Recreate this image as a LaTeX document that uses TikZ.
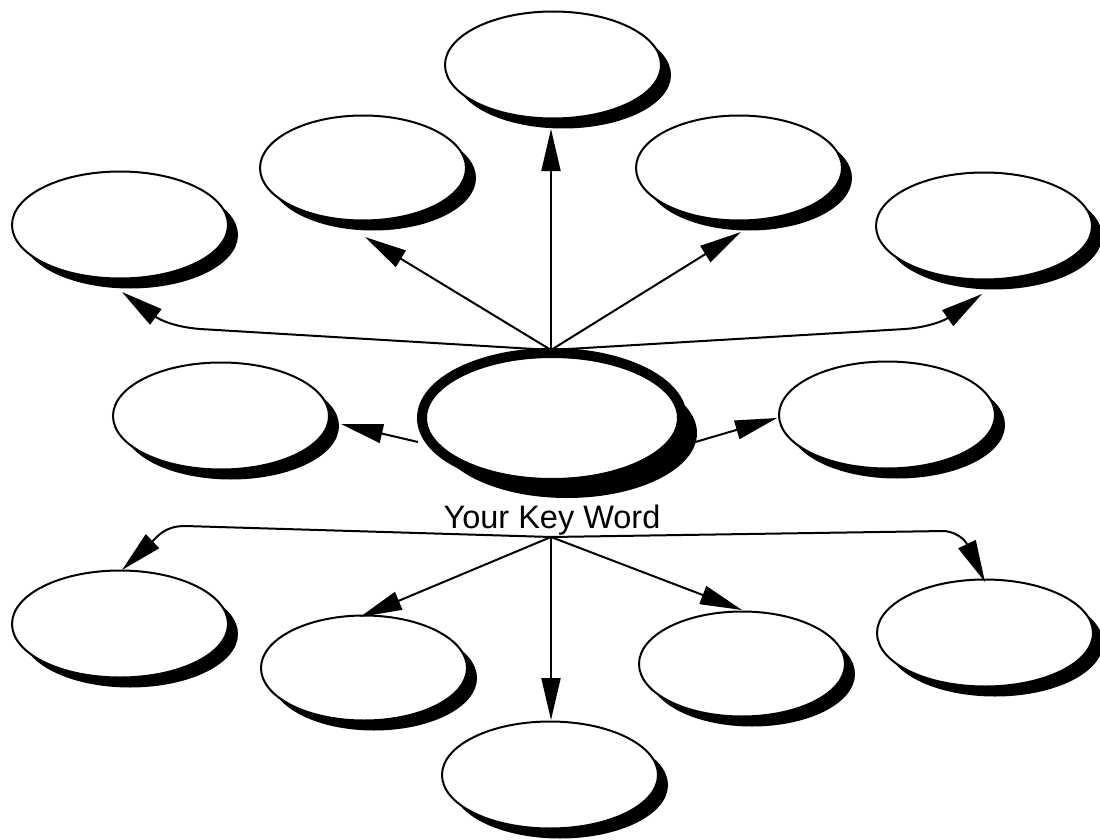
\documentclass[tikz,border=0pt]{standalone}
\usepackage{fontspec}
\setmainfont{Liberation Sans}
\usetikzlibrary{shapes.geometric,shadows,arrows.meta}
\begin{document}
\begin{tikzpicture}[x=1pt,y=-1pt,
  bubble/.style={ellipse, draw=black, line width=2pt, fill=white, inner sep=0pt,
    minimum width=216pt, minimum height=107pt,
    drop shadow={shadow xshift=10pt, shadow yshift=-10pt, fill=black, opacity=1}},
  smallbubble/.style={bubble, minimum width=206pt, minimum height=105pt},
  keybubble/.style={ellipse, draw=black, line width=10pt, fill=white, inner sep=0pt,
    minimum width=260pt, minimum height=130pt,
    drop shadow={shadow xshift=15pt, shadow yshift=-15pt, fill=black, opacity=1}},
  link/.style={line width=2pt, -{Triangle[length=42pt,width=19pt]}}]

% page
\fill[white] (0,0) rectangle (1100,840);

% ellipses
\node[bubble]      (e1)  at (553,65)  {};
\node[smallbubble] (e2)  at (363,168) {};
\node[smallbubble] (e3)  at (739,168) {};
\node[bubble]      (e4)  at (120,225) {};
\node[bubble]      (e5)  at (984,226) {};
\node[bubble]      (e6)  at (221,416) {};
\node[keybubble]   (key) at (552,418) {};
\node[bubble]      (e8)  at (887,415) {};
\node[bubble]      (e9)  at (120,624) {};
\node[bubble]      (e10) at (985,633) {};
\node[smallbubble] (e11) at (364,668) {};
\node[smallbubble] (e12) at (742,664) {};
\node[bubble]      (e13) at (550,775) {};

\node[anchor=base, font=\fontsize{32.5}{38}\selectfont] (kw) at (552,528) {Your Key Word};

% branching points and arrow ends
\coordinate (hT) at (551,350);
\coordinate (hB) at (551,537);
\coordinate (kL) at (418,442);
\coordinate (kR) at (692,443);
\coordinate (t1) at (551,129);
\coordinate (t2) at (365,237);
\coordinate (t3) at (741,232);
\coordinate (t4) at (122,292);
\coordinate (t5) at (982,294);
\coordinate (t6) at (341,424);
\coordinate (t7) at (777,418);
\coordinate (b1) at (551,720);
\coordinate (b2) at (360,617);
\coordinate (b3) at (742,610);
\coordinate (b4) at (122,570);
\coordinate (b5) at (985,582);

% upper fan
\draw[link] (hT) -- (t1);
\draw[link] (hT) -- (t2);
\draw[link] (hT) -- (t3);
\draw[link] (hT) -- (200,329) .. controls (175,327) and (160,320) .. (t4);
\draw[link] (hT) -- (905,329) .. controls (930,327) and (945,320) .. (t5);

% middle
\draw[link] (kL) -- (t6);
\draw[link] (kR) -- (t7);

% lower fan
\draw[link] (hB) -- (b1);
\draw[link] (hB) -- (b2);
\draw[link] (hB) -- (b3);
\draw[link] (hB) -- (185,526) .. controls (165,526) and (158,536) .. (b4);
\draw[link] (hB) -- (945,531) .. controls (958,533) and (965,540) .. (b5);
\end{tikzpicture}
\end{document}
